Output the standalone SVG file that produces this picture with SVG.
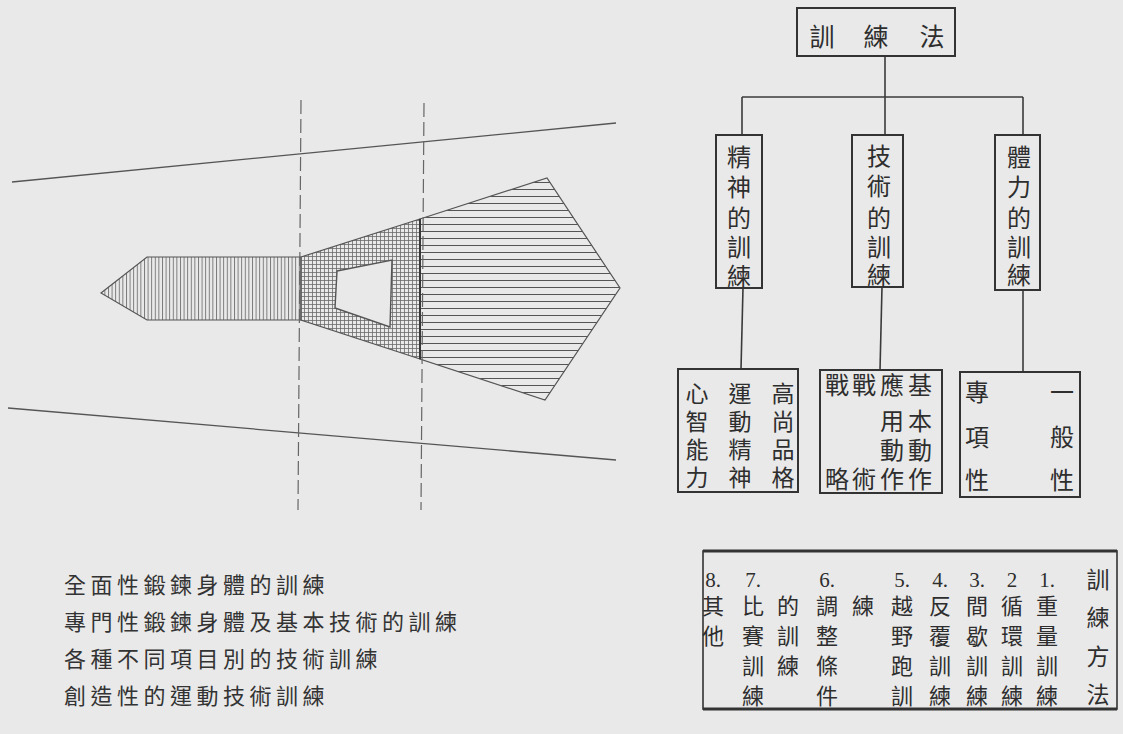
<svg xmlns="http://www.w3.org/2000/svg" width="1123" height="734" viewBox="0 0 1123 734">
<style>
.t{font-family:"Noto Sans CJK TC","Noto Sans CJK SC",sans-serif;fill:#2e2e2e;text-anchor:middle;dominant-baseline:central}
.f25{font-size:24px}
.f24{font-size:23px}
.f23{font-size:22px}
.lt{font-family:"Noto Sans CJK TC","Noto Sans CJK SC",sans-serif;fill:#333;font-size:22px;letter-spacing:4.5px;dominant-baseline:central}
.box{fill:none;stroke:#333;stroke-width:2}
.ln{fill:none;stroke:#3a3a3a;stroke-width:1.6}
.thin{fill:none;stroke:#555;stroke-width:1.3}
.dash{fill:none;stroke:#666;stroke-width:1.2;stroke-dasharray:14 5}
.num{font-family:"Liberation Serif",serif;fill:#2e2e2e;text-anchor:middle;dominant-baseline:central;font-size:21px}
</style>
<defs>
<pattern id="pv" width="3.6" height="10" patternUnits="userSpaceOnUse"><line x1="0.5" y1="0" x2="0.5" y2="10" stroke="#6a6a6a" stroke-width="0.9"/></pattern>
<pattern id="px" width="4" height="4" patternUnits="userSpaceOnUse"><path d="M0.5 0V4M0 0.5H4" stroke="#6a6a6a" stroke-width="0.8"/></pattern>
<pattern id="ph" width="10" height="7" patternUnits="userSpaceOnUse"><line x1="0" y1="0.5" x2="10" y2="0.5" stroke="#555" stroke-width="1"/></pattern>
</defs>
<rect width="1123" height="734" fill="#e9e9e9"/>

<g id="figure">
<line class="thin" x1="12" y1="182" x2="616" y2="123"/>
<line class="thin" x1="8" y1="408" x2="616" y2="460"/>
<polygon points="101,293 147,257 301,257 301,320 147,320" fill="url(#pv)" stroke="#555" stroke-width="1.2"/>
<polygon points="301,257 420,219 420,359 301,320" fill="url(#px)" stroke="#555" stroke-width="1.2"/>
<polygon points="337,271 392,260 390,327 335,308" fill="#e9e9e9" stroke="#555" stroke-width="1.4"/>
<polygon points="420,219 547,178 620,288 545,400 420,359" fill="url(#ph)" stroke="#555" stroke-width="1.2"/>
<line x1="420" y1="219" x2="420" y2="359" stroke="#333" stroke-width="1.8"/>
<line class="dash" x1="301" y1="100" x2="298" y2="510"/>
<line class="dash" x1="424" y1="103" x2="421" y2="510"/>
</g>

<g id="captions">
<text class="lt" x="64" y="583">全面性鍛鍊身體的訓練</text>
<text class="lt" x="64" y="620">專門性鍛鍊身體及基本技術的訓練</text>
<text class="lt" x="64" y="657">各種不同項目別的技術訓練</text>
<text class="lt" x="64" y="694">創造性的運動技術訓練</text>
</g>

<g id="connectors">
<line class="ln" x1="885" y1="56" x2="885" y2="135"/>
<line class="ln" x1="742" y1="97" x2="1023" y2="97"/>
<line class="ln" x1="742" y1="97" x2="742" y2="135"/>
<line class="ln" x1="1023" y1="97" x2="1023" y2="135"/>
<line class="ln" x1="743" y1="288" x2="741" y2="369"/>
<line class="ln" x1="882" y1="287" x2="880" y2="370"/>
<line class="ln" x1="1023" y1="290" x2="1023" y2="372"/>
</g>

<g id="node-root">
<rect class="box" x="797" y="8" width="158" height="48"/>
<text class="t f25" y="35" style="font-size:25px"><tspan x="822">訓</tspan><tspan x="876">練</tspan><tspan x="932">法</tspan></text>
</g>

<g id="node-spirit">
<rect class="box" x="716" y="135" width="46" height="153"/>
<text class="t f25"><tspan x="739" y="155">精</tspan><tspan x="739" y="185">神</tspan><tspan x="739" y="216">的</tspan><tspan x="739" y="245">訓</tspan><tspan x="739" y="274">練</tspan></text>
</g>

<g id="node-tech">
<rect class="box" x="852" y="135" width="51" height="152"/>
<text class="t f25"><tspan x="879" y="154">技</tspan><tspan x="879" y="184">術</tspan><tspan x="879" y="216">的</tspan><tspan x="879" y="245">訓</tspan><tspan x="879" y="273">練</tspan></text>
</g>

<g id="node-body">
<rect class="box" x="995" y="135" width="45" height="155"/>
<text class="t f25"><tspan x="1019" y="155">體</tspan><tspan x="1019" y="185">力</tspan><tspan x="1019" y="216">的</tspan><tspan x="1019" y="245">訓</tspan><tspan x="1019" y="273">練</tspan></text>
</g>

<g id="node-spirit-items">
<rect class="box" x="678" y="369" width="120" height="123"/>
<text class="t f24"><tspan x="783" y="392">高</tspan><tspan x="783" y="420">尚</tspan><tspan x="783" y="448">品</tspan><tspan x="783" y="476">格</tspan></text>
<text class="t f24"><tspan x="740" y="392">運</tspan><tspan x="740" y="420">動</tspan><tspan x="740" y="448">精</tspan><tspan x="740" y="476">神</tspan></text>
<text class="t f24"><tspan x="697" y="392">心</tspan><tspan x="697" y="420">智</tspan><tspan x="697" y="448">能</tspan><tspan x="697" y="476">力</tspan></text>
</g>

<g id="node-tech-items">
<rect class="box" x="820" y="370" width="122" height="123"/>
<text class="t f25"><tspan x="837" y="383">戰</tspan><tspan x="864" y="383">戰</tspan><tspan x="892" y="383">應</tspan><tspan x="920" y="383">基</tspan></text>
<text class="t f25"><tspan x="892" y="419">用</tspan><tspan x="920" y="419">本</tspan></text>
<text class="t f25"><tspan x="892" y="448">動</tspan><tspan x="920" y="448">動</tspan></text>
<text class="t f25"><tspan x="837" y="477">略</tspan><tspan x="864" y="477">術</tspan><tspan x="892" y="477">作</tspan><tspan x="920" y="477">作</tspan></text>
</g>

<g id="node-body-items">
<rect class="box" x="960" y="372" width="120" height="125"/>
<text class="t f25"><tspan x="977" y="390">專</tspan><tspan x="977" y="435">項</tspan><tspan x="977" y="478">性</tspan></text>
<text class="t f25"><tspan x="1062" y="390">一</tspan><tspan x="1062" y="435">般</tspan><tspan x="1062" y="478">性</tspan></text>
</g>

<g id="node-methods">
<rect x="703" y="551" width="414" height="158" fill="none" stroke="#333" stroke-width="1.6"/>
<line x1="703" y1="551" x2="1117" y2="551" stroke="#333" stroke-width="3"/>
<line x1="703" y1="709" x2="1117" y2="709" stroke="#333" stroke-width="3"/>
<text class="t f24"><tspan x="1098" y="578">訓</tspan><tspan x="1098" y="616">練</tspan><tspan x="1098" y="655">方</tspan><tspan x="1098" y="693">法</tspan></text>
<text class="num"><tspan x="1047" y="580">1.</tspan><tspan x="1012" y="580">2</tspan><tspan x="977" y="580">3.</tspan><tspan x="940" y="580">4.</tspan><tspan x="902" y="580">5.</tspan><tspan x="827" y="580">6.</tspan><tspan x="753" y="580">7.</tspan><tspan x="713" y="580">8.</tspan></text>
<text class="t f23"><tspan x="1047" y="604">重</tspan><tspan x="1047" y="634">量</tspan><tspan x="1047" y="664">訓</tspan><tspan x="1047" y="694">練</tspan></text>
<text class="t f23"><tspan x="1012" y="604">循</tspan><tspan x="1012" y="634">環</tspan><tspan x="1012" y="664">訓</tspan><tspan x="1012" y="694">練</tspan></text>
<text class="t f23"><tspan x="977" y="604">間</tspan><tspan x="977" y="634">歇</tspan><tspan x="977" y="664">訓</tspan><tspan x="977" y="694">練</tspan></text>
<text class="t f23"><tspan x="940" y="604">反</tspan><tspan x="940" y="634">覆</tspan><tspan x="940" y="664">訓</tspan><tspan x="940" y="694">練</tspan></text>
<text class="t f23"><tspan x="902" y="604">越</tspan><tspan x="902" y="634">野</tspan><tspan x="902" y="664">跑</tspan><tspan x="902" y="694">訓</tspan></text>
<text class="t f23"><tspan x="863" y="604">練</tspan></text>
<text class="t f23"><tspan x="827" y="604">調</tspan><tspan x="827" y="634">整</tspan><tspan x="827" y="664">條</tspan><tspan x="827" y="694">件</tspan></text>
<text class="t f23"><tspan x="788" y="604">的</tspan><tspan x="788" y="634">訓</tspan><tspan x="788" y="664">練</tspan></text>
<text class="t f23"><tspan x="753" y="604">比</tspan><tspan x="753" y="634">賽</tspan><tspan x="753" y="664">訓</tspan><tspan x="753" y="694">練</tspan></text>
<text class="t f23"><tspan x="713" y="604">其</tspan><tspan x="713" y="634">他</tspan></text>
</g>
</svg>
